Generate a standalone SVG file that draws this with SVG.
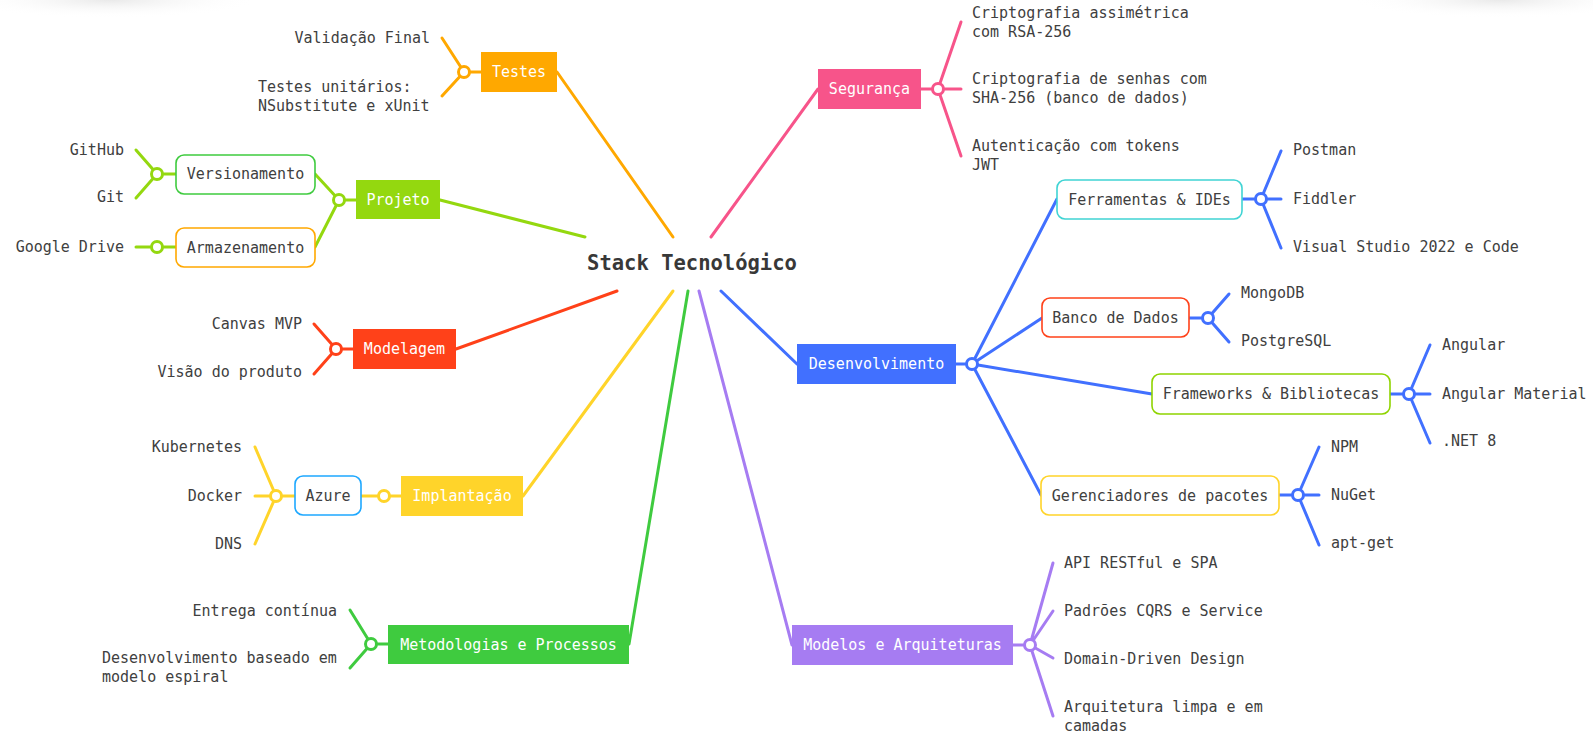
<svg xmlns="http://www.w3.org/2000/svg" width="1593" height="746" viewBox="0 0 1593 746">
<defs>
<style>
.t{font-family:"DejaVu Sans Mono","Liberation Mono",monospace;font-size:15px;fill:#404040;dominant-baseline:central}
.w{fill:#ffffff}
.m{text-anchor:middle}
.e{text-anchor:end}
.ln{fill:none;stroke-width:3;stroke-linecap:round}
.dot{fill:#ffffff;stroke-width:3}
.sub{fill:#ffffff;stroke-width:1.6}
</style>
<radialGradient id="sh" cx="0.5" cy="0.5" r="0.5">
<stop offset="0" stop-color="#e9e9e9"/>
<stop offset="1" stop-color="#ffffff" stop-opacity="0"/>
</radialGradient>
</defs>
<rect width="1593" height="746" fill="#ffffff"/>
<ellipse cx="110" cy="0" rx="150" ry="18" fill="url(#sh)"/>
<ellipse cx="1500" cy="0" rx="150" ry="18" fill="url(#sh)"/>

<g id="connectors">
<!-- main branches -->
<path class="ln" stroke="#FFA800" d="M673,237 L557,72"/>
<path class="ln" stroke="#F7548A" d="M711,237 L818,89"/>
<path class="ln" stroke="#94D80F" d="M585,237 L440,200"/>
<path class="ln" stroke="#FF4119" d="M617,291 L456,349"/>
<path class="ln" stroke="#FFD42A" d="M673,291 L523,496"/>
<path class="ln" stroke="#3FCB3F" d="M688,291 L629,644"/>
<path class="ln" stroke="#A67CF2" d="M699,291 L792,645"/>
<path class="ln" stroke="#4170FF" d="M721,291 L797,364"/>

<!-- Testes -->
<path class="ln" stroke="#FFA800" d="M464,72 L481,72 M464,72 L442,38 M464,72 L442,96"/>
<circle class="dot" stroke="#FFA800" cx="464" cy="72" r="5.5"/>

<!-- Segurança -->
<path class="ln" stroke="#F7548A" d="M921,89 L938,89 M938,89 L961,22 M938,89 L961,89 M938,89 L961,156"/>
<circle class="dot" stroke="#F7548A" cx="938" cy="89" r="5.5"/>

<!-- Projeto -->
<path class="ln" stroke="#94D80F" d="M339,200 L356,200 M339,200 L315,174 M339,200 L315,247"/>
<circle class="dot" stroke="#94D80F" cx="339" cy="200" r="5.5"/>
<path class="ln" stroke="#94D80F" d="M157,174 L176,174 M157,174 L136,150 M157,174 L136,198"/>
<circle class="dot" stroke="#94D80F" cx="157" cy="174" r="5.5"/>
<path class="ln" stroke="#94D80F" d="M136,247 L176,247"/>
<circle class="dot" stroke="#94D80F" cx="157" cy="247" r="5.5"/>

<!-- Modelagem -->
<path class="ln" stroke="#FF4119" d="M336,349 L353,349 M336,349 L314,324 M336,349 L314,374"/>
<circle class="dot" stroke="#FF4119" cx="336" cy="349" r="5.5"/>

<!-- Implantação -->
<path class="ln" stroke="#FFD42A" d="M361,496 L401,496"/>
<circle class="dot" stroke="#FFD42A" cx="384" cy="496" r="5.5"/>
<path class="ln" stroke="#FFD42A" d="M276,496 L295,496 M276,496 L255,447 M276,496 L255,496 M276,496 L255,544"/>
<circle class="dot" stroke="#FFD42A" cx="276" cy="496" r="5.5"/>

<!-- Metodologias -->
<path class="ln" stroke="#3FCB3F" d="M371,644 L388,644 M371,644 L350,610 M371,644 L350,668"/>
<circle class="dot" stroke="#3FCB3F" cx="371" cy="644" r="5.5"/>

<!-- Desenvolvimento -->
<path class="ln" stroke="#4170FF" stroke-width="3.5" d="M956,364 L972,364 M972,364 L1057,199 M972,364 L1042,318 M972,364 L1152,394 M972,364 L1041,495"/>
<circle class="dot" stroke="#4170FF" cx="972" cy="364" r="5.5"/>
<path class="ln" stroke="#4170FF" d="M1242,199 L1261,199 M1261,199 L1281,151 M1261,199 L1281,199 M1261,199 L1281,248"/>
<circle class="dot" stroke="#4170FF" cx="1261" cy="199" r="5.5"/>
<path class="ln" stroke="#4170FF" d="M1189,318 L1208,318 M1208,318 L1229,294 M1208,318 L1229,342"/>
<circle class="dot" stroke="#4170FF" cx="1208" cy="318" r="5.5"/>
<path class="ln" stroke="#4170FF" d="M1390,394 L1409,394 M1409,394 L1430,345 M1409,394 L1430,394 M1409,394 L1430,443"/>
<circle class="dot" stroke="#4170FF" cx="1409" cy="394" r="5.5"/>
<path class="ln" stroke="#4170FF" d="M1279,495 L1298,495 M1298,495 L1319,447 M1298,495 L1319,495 M1298,495 L1319,545"/>
<circle class="dot" stroke="#4170FF" cx="1298" cy="495" r="5.5"/>

<!-- Modelos -->
<path class="ln" stroke="#A67CF2" d="M1013,645 L1030,645"/>
<path class="ln" stroke="#A67CF2" stroke-width="2.2" d="M1030,645 L1053,563 M1030,645 L1053,611 M1030,645 L1053,658 M1030,645 L1053,716"/>
<circle class="dot" stroke="#A67CF2" cx="1030" cy="645" r="5.5"/>
</g>

<g id="root">
<text x="692" y="263" class="t m" style="font-size:20.5px;font-weight:bold;fill:#383838">Stack Tecnológico</text>
</g>

<g id="testes">
<rect x="481" y="52" width="76" height="40" fill="#FFA800"/>
<text x="519" y="72" class="t w m">Testes</text>
<text x="430" y="38" class="t e">Validação Final</text>
<text x="258" y="87" class="t">Testes unitários:</text>
<text x="258" y="106" class="t">NSubstitute e xUnit</text>
</g>

<g id="seguranca">
<rect x="818" y="69" width="103" height="40" fill="#F7548A"/>
<text x="869.5" y="89" class="t w m">Segurança</text>
<text x="972" y="13" class="t">Criptografia assimétrica</text>
<text x="972" y="32" class="t">com RSA-256</text>
<text x="972" y="79" class="t">Criptografia de senhas com</text>
<text x="972" y="98" class="t">SHA-256 (banco de dados)</text>
<text x="972" y="146" class="t">Autenticação com tokens</text>
<text x="972" y="165" class="t">JWT</text>
</g>

<g id="projeto">
<rect x="356" y="180" width="84" height="39" fill="#94D80F"/>
<text x="398" y="200" class="t w m">Projeto</text>
</g>
<g id="versionamento">
<rect x="176" y="155" width="139" height="39" rx="8" class="sub" stroke="#3FCB3F"/>
<text x="245.5" y="174" class="t m">Versionamento</text>
<text x="124" y="150" class="t e">GitHub</text>
<text x="124" y="197" class="t e">Git</text>
</g>
<g id="armazenamento">
<rect x="176" y="228" width="139" height="39" rx="8" class="sub" stroke="#FFA800"/>
<text x="245.5" y="247.5" class="t m">Armazenamento</text>
<text x="124" y="247" class="t e">Google Drive</text>
</g>

<g id="modelagem">
<rect x="353" y="329" width="103" height="40" fill="#FF4119"/>
<text x="404.5" y="349" class="t w m">Modelagem</text>
<text x="302" y="324" class="t e">Canvas MVP</text>
<text x="302" y="372" class="t e">Visão do produto</text>
</g>

<g id="implantacao">
<rect x="401" y="476" width="122" height="40" fill="#FFD42A"/>
<text x="462" y="496" class="t w m">Implantação</text>
</g>
<g id="azure">
<rect x="295" y="476" width="66" height="39" rx="8" class="sub" stroke="#1EA8FF"/>
<text x="328" y="495.5" class="t m">Azure</text>
<text x="242" y="447" class="t e">Kubernetes</text>
<text x="242" y="496" class="t e">Docker</text>
<text x="242" y="544" class="t e">DNS</text>
</g>

<g id="metodologias">
<rect x="388" y="625" width="241" height="39" fill="#3FCB3F"/>
<text x="508.5" y="644.5" class="t w m">Metodologias e Processos</text>
<text x="337" y="611" class="t e">Entrega contínua</text>
<text x="102" y="658" class="t">Desenvolvimento baseado em</text>
<text x="102" y="677" class="t">modelo espiral</text>
</g>

<g id="desenvolvimento">
<rect x="797" y="344" width="159" height="40" fill="#4170FF"/>
<text x="876.5" y="364" class="t w m">Desenvolvimento</text>
</g>
<g id="ferramentas">
<rect x="1057" y="180" width="185" height="39" rx="8" class="sub" stroke="#40D4D4"/>
<text x="1149.5" y="199.5" class="t m">Ferramentas &amp; IDEs</text>
<text x="1293" y="150" class="t">Postman</text>
<text x="1293" y="199" class="t">Fiddler</text>
<text x="1293" y="247" class="t">Visual Studio 2022 e Code</text>
</g>
<g id="banco">
<rect x="1042" y="298" width="147" height="39" rx="8" class="sub" stroke="#FF4119"/>
<text x="1115.5" y="317.5" class="t m">Banco de Dados</text>
<text x="1241" y="293" class="t">MongoDB</text>
<text x="1241" y="341" class="t">PostgreSQL</text>
</g>
<g id="frameworks">
<rect x="1152" y="374" width="238" height="40" rx="8" class="sub" stroke="#8FD400"/>
<text x="1271" y="394" class="t m">Frameworks &amp; Bibliotecas</text>
<text x="1442" y="345" class="t">Angular</text>
<text x="1442" y="394" class="t">Angular Material</text>
<text x="1442" y="441" class="t">.NET 8</text>
</g>
<g id="gerenciadores">
<rect x="1041" y="476" width="238" height="39" rx="8" class="sub" stroke="#FFD42A"/>
<text x="1160" y="495.5" class="t m">Gerenciadores de pacotes</text>
<text x="1331" y="447" class="t">NPM</text>
<text x="1331" y="495" class="t">NuGet</text>
<text x="1331" y="543" class="t">apt-get</text>
</g>

<g id="modelos">
<rect x="792" y="625" width="221" height="40" fill="#A67CF2"/>
<text x="902.5" y="645" class="t w m">Modelos e Arquiteturas</text>
<text x="1064" y="563" class="t">API RESTful e SPA</text>
<text x="1064" y="611" class="t">Padrões CQRS e Service</text>
<text x="1064" y="659" class="t">Domain-Driven Design</text>
<text x="1064" y="707" class="t">Arquitetura limpa e em</text>
<text x="1064" y="726" class="t">camadas</text>
</g>
</svg>
